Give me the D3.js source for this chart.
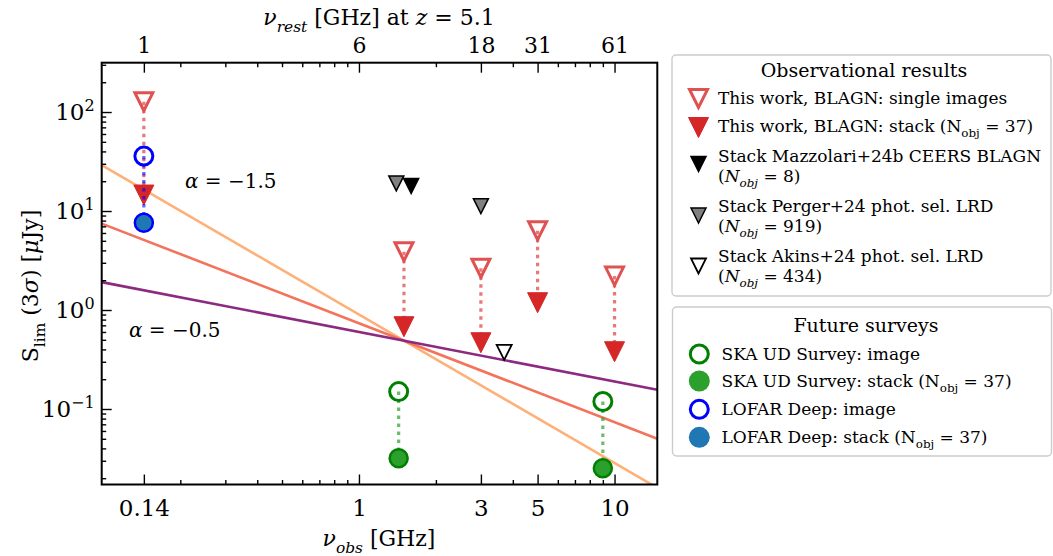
<!DOCTYPE html>
<html>
<head>
<meta charset="utf-8">
<script src="https://cdn.jsdelivr.net/npm/d3@7"></script>
<style>
  body { margin: 0; background: #fff; }
  svg { display: block; }
  text { font-family: "DejaVu Serif", serif; fill: #000; }
</style>
</head>
<body>
<svg id="chart" width="1053" height="556"></svg>
<script>
// ---- data: observed frequency (GHz) and 3-sigma flux limits (uJy) ----
const thisWorkFreq   = [0.144, 1.5, 3, 5, 10];
const thisWorkSingle = [127, 3.88, 2.64, 6.32, 2.2];
const thisWorkStack  = [14.5, 0.678, 0.467, 1.185, 0.379];

const mazzolariFreq  = [1.6];
const mazzolariStack = [17.9];
const pergerFreq     = [1.4, 3];
const pergerStack    = [19.0, 11.2];
const akinsFreq      = [3.7];
const akinsStack     = [0.374];

const skaFreq   = [1.43, 9];
const skaImage  = [0.150, 0.119];
const skaStack  = [0.0318, 0.0252];

const lofarFreq  = [0.144];
const lofarImage = [35.9];
const lofarStack = [7.62];

// power laws S ∝ ν^α through a common pivot
const alphas = [-1.5, -1.0, -0.5];
const alphaColors = ["#feb078", "#f4735c", "#8c2981"];
const pivotFreq = 1.5, pivotFlux = 0.49;

// ticks
const xTickValues   = [0.144, 1, 3, 5, 10];
const xTickLabels   = ["0.14", "1", "3", "5", "10"];
const topTickLabels = ["1", "6", "18", "31", "61"];   // rest frame at z = 5.1
const xMinorTicks   = [0.2, 0.3, 0.4, 0.5, 0.6, 0.7, 0.8, 0.9, 2, 4, 6, 7, 8, 9];
const yTickValues   = [0.1, 1, 10, 100];
const yTickExponents = ["\u22121", "0", "1", "2"];

// ---- layout ----
const plot = { left: 101.7, right: 657.3, top: 62.7, bottom: 484.5 };
const svg = d3.select("#chart");

const x = d3.scaleLog().domain([0.0985, 14.7]).range([plot.left, plot.right]);
const y = d3.scaleLog().domain([0.01727, 315]).range([plot.bottom, plot.top]);

const yMinorTicks = [];
for (let e = -2; e <= 2; e++) {
  for (let m = 2; m <= 9; m++) {
    const v = m * Math.pow(10, e);
    if (v > y.domain()[0] && v < y.domain()[1]) yMinorTicks.push(v);
  }
}

const RED = "#d62728", RED_OPEN = "#e05252";
const GREEN_EDGE = "#008000", GREEN_FILL = "#2ca02c";
const BLUE_EDGE = "#0000ff", BLUE_FILL = "#1f77b4";

// rich text helper: parts = [{t, it, sub, sup}]
function rich(textSel, parts, fs) {
  let shift = 0;
  parts.forEach(p => {
    const target = p.sub ? fs * 0.3 : (p.sup ? -fs * 0.42 : 0);
    const ts = textSel.append("tspan").attr("dy", target - shift).text(p.t);
    shift = target;
    if (p.sub || p.sup) ts.attr("font-size", fs * 0.7);
    if (p.it) ts.attr("font-style", "italic");
  });
  return textSel;
}

const triDown = s => `M0,${s}L${-s},${-s}L${s},${-s}Z`;

// ---- clip ----
svg.append("defs").append("clipPath").attr("id", "plotClip")
  .append("rect").attr("x", plot.left).attr("y", plot.top)
  .attr("width", plot.right - plot.left).attr("height", plot.bottom - plot.top);

// ---- spectral index lines ----
const lineGen = d3.line().x(d => x(d[0])).y(d => y(d[1]));
const lineG = svg.append("g").attr("clip-path", "url(#plotClip)");
alphas.forEach((a, i) => {
  const pts = x.domain().map(nu => [nu, pivotFlux * Math.pow(nu / pivotFreq, a)]);
  lineG.append("path").datum(pts).attr("d", lineGen)
    .attr("fill", "none").attr("stroke", alphaColors[i]).attr("stroke-width", 2.6);
});

// annotations
rich(svg.append("text").attr("x", 185).attr("y", 188).attr("font-size", 20),
  [{ t: "\u03b1", it: true }, { t: " = \u22121.5" }], 20);
rich(svg.append("text").attr("x", 129).attr("y", 337).attr("font-size", 20),
  [{ t: "\u03b1", it: true }, { t: " = \u22120.5" }], 20);

// ---- data marks ----
const marks = svg.append("g");

function dotted(freqs, a, b, color, opacity) {
  marks.selectAll(null).data(freqs).enter().append("line")
    .attr("x1", d => x(d)).attr("x2", d => x(d))
    .attr("y1", (d, i) => y(a[i])).attr("y2", (d, i) => y(b[i]))
    .attr("stroke", color).attr("stroke-opacity", opacity)
    .attr("stroke-width", 3.2).attr("stroke-dasharray", "3.5,4.5");
}

function triangles(freqs, vals, s, fill, stroke, sw) {
  marks.selectAll(null).data(freqs).enter().append("path")
    .attr("d", triDown(s))
    .attr("transform", (d, i) => `translate(${x(d)},${y(vals[i])})`)
    .attr("fill", fill).attr("stroke", stroke).attr("stroke-width", sw)
    .attr("stroke-linejoin", "miter");
}

function circles(freqs, vals, r, fill, stroke, sw) {
  marks.selectAll(null).data(freqs).enter().append("circle")
    .attr("cx", d => x(d)).attr("cy", (d, i) => y(vals[i])).attr("r", r)
    .attr("fill", fill).attr("stroke", stroke).attr("stroke-width", sw);
}

// literature stacks
triangles(pergerFreq, pergerStack, 7.5, "#808080", "#000", 1.5);
triangles(mazzolariFreq, mazzolariStack, 7.5, "#000", "#000", 1.5);
triangles(akinsFreq, akinsStack, 7.5, "#fff", "#000", 1.8);

// this work
dotted(thisWorkFreq, thisWorkSingle, thisWorkStack, RED, 0.62);
triangles(thisWorkFreq, thisWorkSingle, 9, "none", RED_OPEN, 3);
triangles(thisWorkFreq, thisWorkStack, 10, RED, RED, 1);

// SKA
dotted(skaFreq, skaImage, skaStack, GREEN_FILL, 0.7);
circles(skaFreq, skaImage, 9, "none", GREEN_EDGE, 3);
circles(skaFreq, skaStack, 9, GREEN_FILL, GREEN_EDGE, 2.5);

// LOFAR
dotted(lofarFreq, lofarImage, lofarStack, BLUE_EDGE, 0.6);
circles(lofarFreq, lofarImage, 9, "none", BLUE_EDGE, 3);
circles(lofarFreq, lofarStack, 9, BLUE_FILL, BLUE_EDGE, 2.5);

// ---- axes ----
function styleAxis(g, fs) {
  g.attr("font-family", "Liberation Serif, serif").attr("font-size", fs);
  g.select(".domain").remove();
  g.selectAll(".tick line").attr("stroke-width", 1.4);
}

// bottom
svg.append("g").attr("transform", `translate(0,${plot.bottom})`)
  .call(d3.axisBottom(x).tickValues(xTickValues).tickFormat((d, i) => xTickLabels[i])
    .tickSizeInner(-10).tickSizeOuter(0).tickPadding(16))
  .call(g => styleAxis(g, 23))
  .call(g => g.selectAll(".tick text").attr("dy", "0.71em").attr("y", 15));
svg.append("g").attr("transform", `translate(0,${plot.bottom})`)
  .call(d3.axisBottom(x).tickValues(xMinorTicks).tickFormat("").tickSizeInner(-4.5).tickSizeOuter(0))
  .call(g => styleAxis(g, 10));

// top (rest-frame frequency)
svg.append("g").attr("transform", `translate(0,${plot.top})`)
  .call(d3.axisTop(x).tickValues(xTickValues).tickFormat((d, i) => topTickLabels[i])
    .tickSizeInner(-10).tickSizeOuter(0).tickPadding(10))
  .call(g => styleAxis(g, 22));
svg.append("g").attr("transform", `translate(0,${plot.top})`)
  .call(d3.axisTop(x).tickValues(xMinorTicks).tickFormat("").tickSizeInner(-4.5).tickSizeOuter(0))
  .call(g => styleAxis(g, 10));

// left
svg.append("g").attr("transform", `translate(${plot.left},0)`)
  .call(d3.axisLeft(y).tickValues(yTickValues).tickFormat("").tickSizeInner(-10).tickSizeOuter(0).tickPadding(7))
  .call(g => styleAxis(g, 23))
  .call(g => g.selectAll(".tick text").each(function (d, i) {
    const t = d3.select(this).text(null).attr("dy", "0.32em");
    t.append("tspan").text("10");
    t.append("tspan").attr("dy", -9).attr("font-size", 16).text(yTickExponents[i]);
  }));
svg.append("g").attr("transform", `translate(${plot.left},0)`)
  .call(d3.axisLeft(y).tickValues(yMinorTicks).tickFormat("").tickSizeInner(-4.5).tickSizeOuter(0))
  .call(g => styleAxis(g, 10));

// frame
svg.append("rect").attr("x", plot.left).attr("y", plot.top)
  .attr("width", plot.right - plot.left).attr("height", plot.bottom - plot.top)
  .attr("fill", "none").attr("stroke", "#000").attr("stroke-width", 2);

// axis titles
rich(svg.append("text").attr("x", 379).attr("y", 546).attr("text-anchor", "middle").attr("font-size", 22),
  [{ t: "\u03bd", it: true }, { t: "obs", it: true, sub: true }, { t: " [GHz]" }], 22);
rich(svg.append("text").attr("x", 379).attr("y", 25).attr("text-anchor", "middle").attr("font-size", 22),
  [{ t: "\u03bd", it: true }, { t: "rest", it: true, sub: true }, { t: " [GHz] at " }, { t: "z", it: true }, { t: " = 5.1" }], 22);
rich(svg.append("text").attr("transform", "translate(38,286) rotate(-90)").attr("text-anchor", "middle").attr("font-size", 22),
  [{ t: "S" }, { t: "lim", sub: true }, { t: " (3" }, { t: "\u03c3", it: true }, { t: ") [" }, { t: "\u03bc", it: true }, { t: "Jy]" }], 22);

// ---- legends ----
function legendBox(x0, y0, w, h) {
  svg.append("rect").attr("x", x0).attr("y", y0).attr("width", w).attr("height", h)
    .attr("rx", 4).attr("fill", "#fff").attr("stroke", "#cccccc").attr("stroke-width", 1.4);
}

const LFS = 17;
function legendText(xp, yp, parts) {
  rich(svg.append("text").attr("x", xp).attr("y", yp).attr("font-size", LFS), parts, LFS);
}

// observational results
legendBox(672, 55, 379, 241);
svg.append("text").attr("x", 864).attr("y", 77).attr("text-anchor", "middle")
  .attr("font-size", 19).text("Observational results");
const lg1 = svg.append("g");
const lx = 698.5, tx = 718;
lg1.append("path").attr("d", triDown(9)).attr("transform", `translate(${lx},98.5)`)
  .attr("fill", "none").attr("stroke", RED_OPEN).attr("stroke-width", 3);
legendText(tx, 104, [{ t: "This work, BLAGN: single images" }]);
lg1.append("path").attr("d", triDown(10)).attr("transform", `translate(${lx},127.5)`)
  .attr("fill", RED).attr("stroke", RED).attr("stroke-width", 1);
legendText(tx, 132, [{ t: "This work, BLAGN: stack (N" }, { t: "obj", sub: true }, { t: " = 37)" }]);
lg1.append("path").attr("d", triDown(7.5)).attr("transform", `translate(${lx},164)`)
  .attr("fill", "#000").attr("stroke", "#000").attr("stroke-width", 1.5);
legendText(tx, 161.5, [{ t: "Stack Mazzolari+24b CEERS BLAGN" }]);
legendText(tx, 181.5, [{ t: "(" }, { t: "N", it: true }, { t: "obj", it: true, sub: true }, { t: " = 8)" }]);
lg1.append("path").attr("d", triDown(7.5)).attr("transform", `translate(${lx},215.5)`)
  .attr("fill", "#808080").attr("stroke", "#000").attr("stroke-width", 1.5);
legendText(tx, 211.5, [{ t: "Stack Perger+24 phot. sel. LRD" }]);
legendText(tx, 231.5, [{ t: "(" }, { t: "N", it: true }, { t: "obj", it: true, sub: true }, { t: " = 919)" }]);
lg1.append("path").attr("d", triDown(7.5)).attr("transform", `translate(${lx},266)`)
  .attr("fill", "#fff").attr("stroke", "#000").attr("stroke-width", 1.8);
legendText(tx, 261.5, [{ t: "Stack Akins+24 phot. sel. LRD" }]);
legendText(tx, 281.5, [{ t: "(" }, { t: "N", it: true }, { t: "obj", it: true, sub: true }, { t: " = 434)" }]);

// future surveys
legendBox(672.5, 307, 379, 149);
svg.append("text").attr("x", 866).attr("y", 332).attr("text-anchor", "middle")
  .attr("font-size", 19).text("Future surveys");
const lg2 = svg.append("g");
const cx = 699.3, ctx = 721.5;
lg2.append("circle").attr("cx", cx).attr("cy", 354).attr("r", 9)
  .attr("fill", "none").attr("stroke", GREEN_EDGE).attr("stroke-width", 3);
legendText(ctx, 359.5, [{ t: "SKA UD Survey: image" }]);
lg2.append("circle").attr("cx", cx).attr("cy", 381).attr("r", 10.5).attr("fill", GREEN_FILL);
legendText(ctx, 386.5, [{ t: "SKA UD Survey: stack (N" }, { t: "obj", sub: true }, { t: " = 37)" }]);
lg2.append("circle").attr("cx", cx).attr("cy", 409.3).attr("r", 9)
  .attr("fill", "none").attr("stroke", BLUE_EDGE).attr("stroke-width", 3);
legendText(ctx, 414.5, [{ t: "LOFAR Deep: image" }]);
lg2.append("circle").attr("cx", cx).attr("cy", 437.3).attr("r", 10.5).attr("fill", BLUE_FILL);
legendText(ctx, 442.5, [{ t: "LOFAR Deep: stack (N" }, { t: "obj", sub: true }, { t: " = 37)" }]);
</script>
</body>
</html>
